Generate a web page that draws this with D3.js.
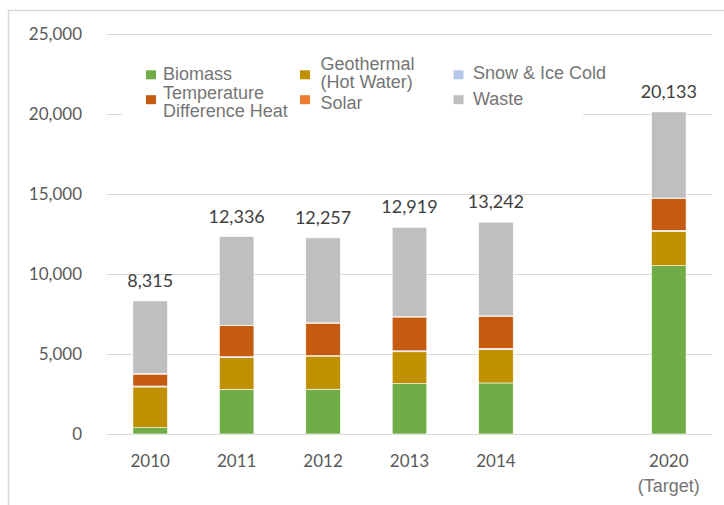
<!DOCTYPE html>
<html>
<head>
<meta charset="utf-8">
<script src="https://cdn.jsdelivr.net/npm/d3@7"></script>
<style>
  body { margin: 0; background: #fff; }
  svg { display: block; }
</style>
</head>
<body>
<div id="chart"></div>
<script>
// heat supply by source, stacked columns

var years = ["2010", "2011", "2012", "2013", "2014", "2020"];
var yearNotes = ["", "", "", "", "", "(Target)"];
var totals = [8315, 12336, 12257, 12919, 13242, 20133];

var biomass    = [400, 2790, 2800, 3150, 3190, 10520];
var geothermal = [2540, 1990, 2070, 1990, 2100, 2150];
var snowIce    = [60, 50, 30, 60, 60, 60];
var tempDiff   = [740, 1940, 2000, 2110, 2010, 1990];
var solar      = [40, 20, 50, 30, 30, 30];
var waste      = [4535, 5546, 5307, 5579, 5852, 5383];

var seriesNames = ["Biomass", "Geothermal (Hot Water)", "Snow & Ice Cold",
                   "Temperature Difference Heat", "Solar", "Waste"];
var seriesValues = [biomass, geothermal, snowIce, tempDiff, solar, waste];
var seriesColors = ["#70ad47", "#bf9000", "#b4c7e7", "#c55a11", "#ed7d31", "#bfbfbf"];

var yTicks = [0, 5000, 10000, 15000, 20000, 25000];

var width = 724, height = 505;
var margin = {left: 107, right: 12, top: 34, bottom: 71};

var svg = d3.select("#chart").append("svg")
	.attr("width", width)
	.attr("height", height);

// chart area border (runs off the right/bottom of the picture)
svg.append("rect")
	.attr("x", 8.5).attr("y", 10.5)
	.attr("width", 800).attr("height", 600)
	.attr("fill", "none")
	.attr("stroke", "#d9d9d9")
	.attr("stroke-width", 1.5);

// one empty slot between 2014 and 2020
var slots = years.slice(0, 5).concat(["gap"], years.slice(5));

var x = d3.scaleBand()
	.domain(slots)
	.range([margin.left, width - margin.right])
	.paddingInner(0.6)
	.paddingOuter(0.3);

var y = d3.scaleLinear()
	.domain([0, 25000])
	.range([height - margin.bottom, margin.top]);

// gridlines
svg.append("g")
	.selectAll("line")
	.data(yTicks)
	.enter().append("line")
	.attr("x1", margin.left).attr("x2", width - margin.right)
	.attr("y1", function(d) { return Math.round(y(d)) + 0.5; })
	.attr("y2", function(d) { return Math.round(y(d)) + 0.5; })
	.attr("stroke", "#d9d9d9")
	.attr("stroke-width", 1);

// y axis labels
var yAxis = d3.axisLeft(y)
	.tickValues(yTicks)
	.tickFormat(d3.format(","))
	.tickSize(0)
	.tickPadding(0);

var yg = svg.append("g")
	.attr("transform", "translate(82,0)")
	.call(yAxis);
yg.select(".domain").remove();
yg.selectAll("text")
	.attr("font-family", "Lato, 'Open Sans', sans-serif")
	.attr("font-size", 17)
	.attr("fill", "#595959");

// x axis labels
var xAxis = d3.axisBottom(x)
	.tickFormat(function(d) { return d === "gap" ? "" : d; })
	.tickSize(0)
	.tickPadding(0);

var xg = svg.append("g")
	.attr("transform", "translate(0," + (height - margin.bottom) + ")")
	.call(xAxis);
xg.select(".domain").remove();
xg.selectAll("text")
	.attr("font-family", "Lato, 'Open Sans', sans-serif")
	.attr("font-size", 17)
	.attr("fill", "#595959")
	.attr("dy", null)
	.attr("y", 33);

svg.append("g")
	.selectAll("text")
	.data(years)
	.enter().append("text")
	.attr("x", function(d) { return x(d) + x.bandwidth() / 2; })
	.attr("y", height - margin.bottom + 58)
	.attr("text-anchor", "middle")
	.attr("font-family", "'Liberation Sans', Arial, sans-serif")
	.attr("font-size", 18)
	.attr("fill", "#757575")
	.text(function(d, i) { return yearNotes[i]; });

// stacked bars
var rows = years.map(function(yr, i) {
	var r = {year: yr};
	seriesNames.forEach(function(s, j) { r[s] = seriesValues[j][i]; });
	return r;
});

var stacked = d3.stack().keys(seriesNames)(rows);

var layer = svg.append("g")
	.selectAll("g")
	.data(stacked)
	.enter().append("g")
	.attr("fill", function(d, i) { return seriesColors[i]; });

layer.selectAll("rect")
	.data(function(d) { return d; })
	.enter().append("rect")
	.attr("x", function(d) { return x(d.data.year); })
	.attr("width", x.bandwidth())
	.attr("y", function(d) { return y(d[1]); })
	.attr("height", function(d) { return y(d[0]) - y(d[1]); })
	.attr("stroke", "#fff")
	.attr("stroke-width", 0.6);

// total labels
svg.append("g")
	.selectAll("text")
	.data(years)
	.enter().append("text")
	.attr("x", function(d) { return x(d) + x.bandwidth() / 2; })
	.attr("y", function(d, i) { return y(totals[i]) - 14; })
	.attr("text-anchor", "middle")
	.attr("font-family", "Lato, 'Open Sans', sans-serif")
	.attr("font-size", 18)
	.attr("fill", "#404040")
	.text(function(d, i) { return d3.format(",")(totals[i]); });

// legend, 3 columns x 2 rows on a white box
var legendCols = [146, 300, 453.5];
var legendTextDx = [17, 20.5, 19.5];
var legendRows = [74.8, 99.7];
var legendLines = [["Biomass"], ["Geothermal", "(Hot Water)"], ["Snow & Ice Cold"],
                   ["Temperature", "Difference Heat"], ["Solar"], ["Waste"]];
// first baseline of each entry, relative to its marker centre
var legendBaseDy = [5.5, -4.5, 4, -1, 9, 5.6];

var legend = svg.append("g");
legend.append("rect")
	.attr("x", 122).attr("y", 50)
	.attr("width", 461).attr("height", 76)
	.attr("fill", "#fff");

var item = legend.selectAll(".item")
	.data(seriesNames)
	.enter().append("g")
	.attr("class", "item")
	.attr("transform", function(d, i) {
		return "translate(" + legendCols[i % 3] + "," + legendRows[Math.floor(i / 3)] + ")";
	});

item.append("rect")
	.attr("x", 0).attr("y", -4.5)
	.attr("width", 10).attr("height", 9)
	.attr("fill", function(d, i) { return seriesColors[i]; });

item.append("text")
	.attr("font-family", "'Liberation Sans', Arial, sans-serif")
	.attr("font-size", 18)
	.attr("fill", "#757575")
	.each(function(d, i) {
		var t = d3.select(this);
		legendLines[i].forEach(function(l, k) {
			t.append("tspan")
				.attr("x", legendTextDx[i % 3])
				.attr("y", legendBaseDy[i] + k * 18)
				.text(l);
		});
	});
</script>
</body>
</html>
